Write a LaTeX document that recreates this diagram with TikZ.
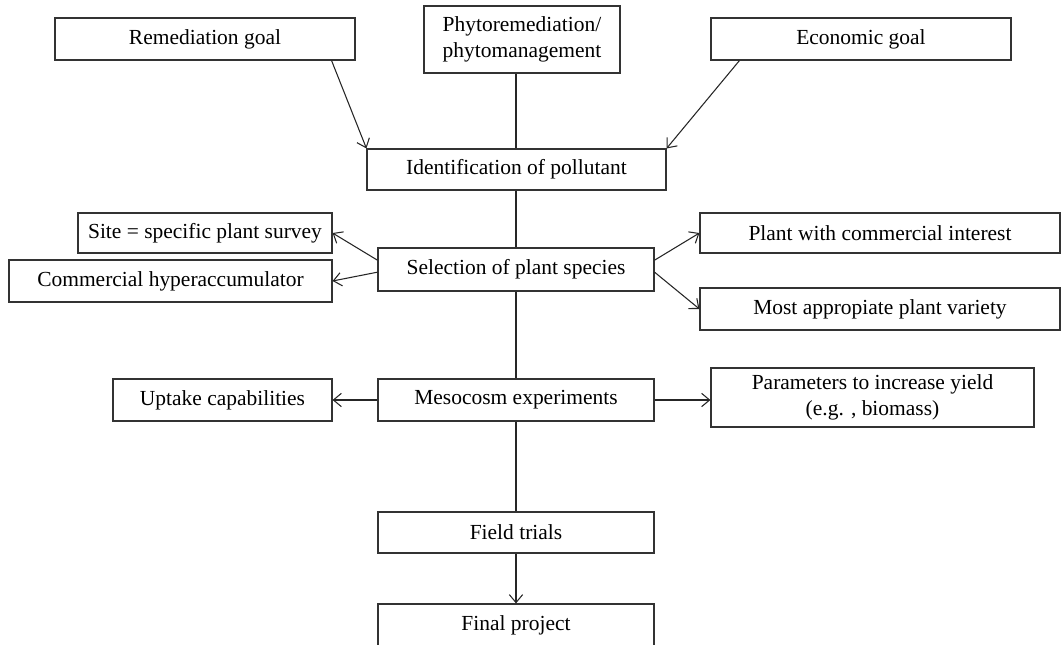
\documentclass[tikz,border=0pt]{standalone}
\usepackage{fontspec}
\setmainfont{Liberation Serif}
\usetikzlibrary{arrows.meta}
\begin{document}
\begin{tikzpicture}[x=0.75pt, y=-0.75pt,
    >={Straight Barb[length=6pt, width=10pt]},
    flowbox/.style={draw=black!80, line width=0.85pt, inner sep=0pt, align=center,
        font=\fontsize{16.1}{19}\selectfont},
    link/.style={draw=black!85, line width=0.8pt}]
\clip (0,0) rectangle (1061,644);
\node [flowbox, minimum width=225pt, minimum height=31.5pt] (remgoal) at (205,39) {Remediation goal};
\node [flowbox, minimum width=147pt, minimum height=50.25pt] (phyto) at (522,39.5) {Phytoremediation/\\phytomanagement};
\node [flowbox, minimum width=225pt, minimum height=31.5pt] (econgoal) at (861,39) {Economic goal};
\node [flowbox, minimum width=224.25pt, minimum height=30.75pt] (ident) at (516.5,169.5) {Identification of pollutant};
\node [flowbox, minimum width=190.5pt, minimum height=30pt] (site) at (205,233) {Site = specific plant survey};
\node [flowbox, minimum width=242.25pt, minimum height=31.5pt] (hyperacc) at (170.5,281) {Commercial hyperaccumulator};
\node [flowbox, minimum width=207pt, minimum height=32.25pt] (select) at (516,269.5) {Selection of plant species};
\node [flowbox, minimum width=270pt, minimum height=30pt] (commint) at (880,233) {Plant with commercial interest};
\node [flowbox, minimum width=270pt, minimum height=31.5pt] (variety) at (880,309) {Most appropiate plant variety};
\node [flowbox, minimum width=164.25pt, minimum height=31.5pt] (uptake) at (222.5,400) {Uptake capabilities};
\node [flowbox, minimum width=207pt, minimum height=31.5pt] (meso) at (516,400) {Mesocosm experiments};
\node [flowbox, minimum width=242.25pt, minimum height=44.25pt] (params) at (872.5,397.5) {Parameters to increase yield\\(e.g. , biomass)};
\node [flowbox, minimum width=207pt, minimum height=30.75pt] (field) at (516,532.5) {Field trials};
\node [flowbox, minimum width=207pt, minimum height=31.5pt] (final) at (516,625) {Final project};
\draw [link, ->] ([xshift=-18pt]remgoal.south east) -- (ident.north west);
\draw [link, ->] ([xshift=21.75pt]econgoal.south west) -- (ident.north east);
\draw [link] (ident.north -| select.north) -- (select.north |- phyto.south);
\draw [link] (ident.south -| select.north) -- (select.north);
\draw [link, ->] ([yshift=7pt]select.west) -- (site.east);
\draw [link, ->] ([yshift=-2pt]select.west) -- (hyperacc.east);
\draw [link, ->] ([yshift=7pt]select.east) -- (commint.west);
\draw [link, ->] ([yshift=-2pt]select.east) -- (variety.west);
\draw [link] (select.south) -- (meso.north);
\draw [link, ->] (meso.west) -- (uptake.east);
\draw [link, ->] (meso.east) -- (meso.east -| params.west);
\draw [link] (meso.south) -- (field.north);
\draw [link, ->] (field.south) -- (final.north);
\end{tikzpicture}
\end{document}
